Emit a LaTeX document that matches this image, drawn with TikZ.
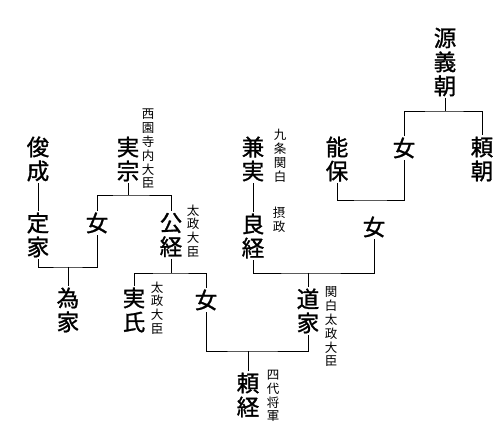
\documentclass[tikz,border=0pt]{standalone}
\usepackage{fontspec}
\newfontfamily\jpfont{Noto Sans CJK JP}
\newfontfamily\jpheavy[FakeBold=1.2]{Noto Sans CJK JP}
\usepackage{tikz}

\begin{document}
\begin{tikzpicture}[x=1pt, y=-1pt,
    person/.style={font=\jpheavy\fontsize{22.5}{24}\selectfont, align=center, inner sep=1.5pt},
    rank/.style={font=\jpfont\fontsize{12.5}{13.8}\selectfont, align=center, inner sep=0pt},
    kin/.style={line width=0.9pt}
  ]
  \useasboundingbox (0,0) rectangle (504,441);

  % Personen
  \node[person] (yoshitomo)  at (445,62)  {源\\義\\朝};
  \node[person] (onna1)      at (404,148) {女};
  \node[person] (yoritomo)   at (482,159) {頼\\朝};
  \node[person] (yoshiyasu)  at (337,159) {能\\保};
  \node[person] (kanezane)   at (253,159) {兼\\実};
  \node[person] (yoshitsune) at (253,236) {良\\経};
  \node[person] (onna2)      at (374,227) {女};
  \node[person] (michiie)    at (308,311) {道\\家};
  \node[person] (yoritsune)  at (248,395) {頼\\経};
  \node[person] (onna3)      at (206,300) {女};
  \node[person] (saneuji)    at (134,310) {実\\氏};
  \node[person] (kintsune)   at (171,235) {公\\経};
  \node[person] (sanemune)   at (128,159) {実\\宗};
  \node[person] (onna4)      at (97,223)  {女};
  \node[person] (shunzei)    at (38,159)  {俊\\成};
  \node[person] (teika)      at (38,235)  {定\\家};
  \node[person] (tameie)     at (68,310)  {為\\家};

  % Ämter
  \node[rank] (r-sanemune)   at (148,149) {西\\園\\寺\\内\\大\\臣};
  \node[rank] (r-kintsune)   at (193,231) {太\\政\\大\\臣};
  \node[rank] (r-saneuji)    at (157,308) {太\\政\\大\\臣};
  \node[rank] (r-kanezane)   at (280,156) {九\\条\\関\\白};
  \node[rank] (r-yoshitsune) at (279,220) {摂\\政};
  \node[rank] (r-michiie)    at (331,327) {関\\白\\太\\政\\大\\臣};
  \node[rank] (r-yoritsune)  at (273,396) {四\\代\\将\\軍};

  % Verzweigungen
  \coordinate (b1) at (445,111);
  \coordinate (b2) at (370,200);
  \coordinate (b3) at (308,273);
  \coordinate (b4) at (248,351);
  \coordinate (b5) at (171,273);
  \coordinate (b6) at (128,195);
  \coordinate (b7) at (68,267);

  % Linien
  \draw[kin] (yoshitomo.south) -- (b1);
  \draw[kin] (onna1.north) |- (b1) -| (yoritomo.north);
  \draw[kin] (yoshiyasu.south) |- (b2) -| (onna1.south);
  \draw[kin] (kanezane.south) -- (yoshitsune.north);
  \draw[kin] (yoshitsune.south) |- (b3) -| (onna2.south);
  \draw[kin] (b3) -- (michiie.north);
  \draw[kin] (onna3.south) |- (b4) -| (michiie.south);
  \draw[kin] (b4) -- (yoritsune.north);
  \draw[kin] (kintsune.south) -- (b5);
  \draw[kin] (saneuji.north) |- (b5) -| (onna3.north);
  \draw[kin] (sanemune.south) -- (b6);
  \draw[kin] (onna4.north) |- (b6) -| (kintsune.north);
  \draw[kin] (shunzei.south) -- (teika.north);
  \draw[kin] (teika.south) |- (b7) -| (onna4.south);
  \draw[kin] (b7) -- (tameie.north);
\end{tikzpicture}
\end{document}
